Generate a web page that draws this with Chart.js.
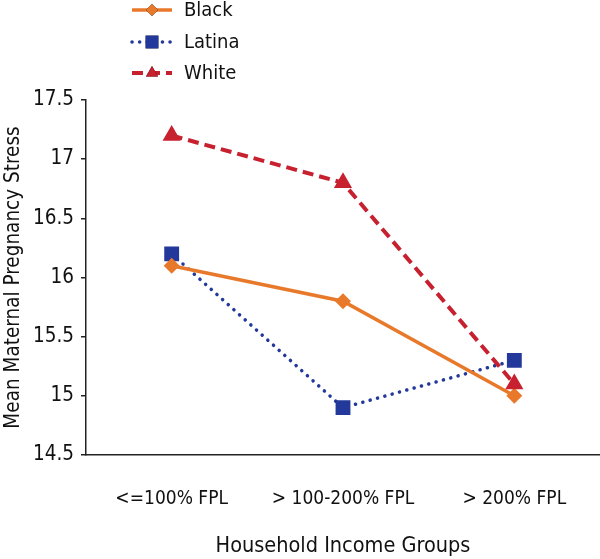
<!DOCTYPE html>
<html>
<head>
<meta charset="utf-8">
<script src="https://cdn.jsdelivr.net/npm/chart.js@4.4.0/dist/chart.umd.min.js"></script>
<style>
html,body{margin:0;padding:0;background:#fff;}
#wrap{width:600px;height:559px;position:relative;}
</style>
</head>
<body>
<div id="wrap"><canvas id="c" width="600" height="559"></canvas></div>
<script>
const categories = ['<=100% FPL', '> 100-200% FPL', '> 200% FPL'];
const blackValues = [16.1, 15.8, 15.0];
const latinaValues = [16.2, 14.9, 15.3];
const whiteValues = [17.2, 16.8, 15.1];
const seriesNames = ['Black', 'Latina', 'White'];
const yTicks = [14.5, 15, 15.5, 16, 16.5, 17, 17.5];

const FONT = "'Liberation Sans Narrow', 'DejaVu Sans Condensed', 'Liberation Sans', sans-serif";
const ORANGE = '#E8792B', BLUE = '#22389A', RED = '#C7202F';

const legendPlugin = {
  id: 'customLegend',
  afterDraw(chart) {
    const ctx = chart.ctx;
    const rows = [10, 42, 73];
    chart.data.datasets.forEach((ds, i) => {
      const y = rows[i];
      ctx.save();
      ctx.strokeStyle = ds.borderColor;
      ctx.lineWidth = ds.borderWidth;
      ctx.lineCap = ds.borderCapStyle || 'butt';
      ctx.setLineDash(ds.borderDash || []);
      ctx.beginPath();
      ctx.moveTo(132, y);
      ctx.lineTo(172, y);
      ctx.stroke();
      ctx.setLineDash([]);
      Chart.helpers.drawPoint(ctx, {pointStyle: ds.pointStyle, radius: ds.legendRadius, rotation: 0, borderWidth: 0}, 152, y);
      ctx.fillStyle = ds.pointBackgroundColor;
      ctx.fill();
      ctx.fillStyle = '#111';
      ctx.font = '20px ' + FONT;
      ctx.textBaseline = 'middle';
      ctx.textAlign = 'left';
      ctx.fillText(ds.label, 184, y + 1);
      ctx.restore();
    });
  }
};

new Chart(document.getElementById('c'), {
  type: 'line',
  data: {
    labels: categories,
    datasets: [
      {label: seriesNames[0], data: blackValues, borderColor: ORANGE, backgroundColor: ORANGE,
       pointBackgroundColor: ORANGE, pointBorderColor: ORANGE, borderWidth: 3.5, pointStyle: 'rectRot',
       pointRadius: 8, pointBorderWidth: 0, legendRadius: 6, order: 2},
      {label: seriesNames[1], data: latinaValues, borderColor: BLUE, backgroundColor: BLUE,
       pointBackgroundColor: BLUE, pointBorderColor: BLUE, borderWidth: 3.5, borderDash: [0.1, 7.5],
       borderCapStyle: 'round', pointStyle: 'rect', pointRadius: 10.5, pointBorderWidth: 0, legendRadius: 9, order: 3},
      {label: seriesNames[2], data: whiteValues, borderColor: RED, backgroundColor: RED,
       pointBackgroundColor: RED, pointBorderColor: RED, borderWidth: 4, borderDash: [11, 6],
       pointStyle: 'triangle', pointRadius: 10.5, pointBorderWidth: 0, legendRadius: 7, order: 1}
    ]
  },
  options: {
    responsive: false,
    animation: false,
    layout: {autoPadding: false, padding: {top: 100, left: 0, right: 0, bottom: 0}},
    plugins: {legend: {display: false}, tooltip: {enabled: false}},
    scales: {
      x: {
        offset: true,
        grid: {display: false, drawTicks: false},
        border: {display: true, color: '#222', width: 1.5},
        ticks: {color: '#111', font: {family: FONT, size: 19}, padding: 33, maxRotation: 0},
        title: {display: true, text: 'Household Income Groups', color: '#111',
                font: {family: FONT, size: 21.5}, padding: {top: 9, bottom: 0}},
        afterFit(s) { s.height = 104; s.paddingLeft = 0; s.paddingRight = 0; }
      },
      y: {
        min: 14.5, max: 17.5,
        afterBuildTicks(s) { s.ticks = yTicks.map(v => ({value: v})); },
        grid: {display: true, drawOnChartArea: false, drawTicks: true, tickLength: 5, color: '#222', lineWidth: 1.5},
        border: {display: true, color: '#222', width: 1.5},
        ticks: {color: '#111', font: {family: FONT, size: 20.5}, padding: 7,
                callback: v => String(v)},
        title: {display: true, text: 'Mean Maternal Pregnancy Stress', color: '#111',
                font: {family: FONT, size: 20.5}, padding: {top: 1, bottom: 0}},
        afterFit(s) { s.width = 86; s.paddingTop = 0; s.paddingBottom = 0; }
      }
    }
  },
  plugins: [legendPlugin]
});
</script>
</body>
</html>
